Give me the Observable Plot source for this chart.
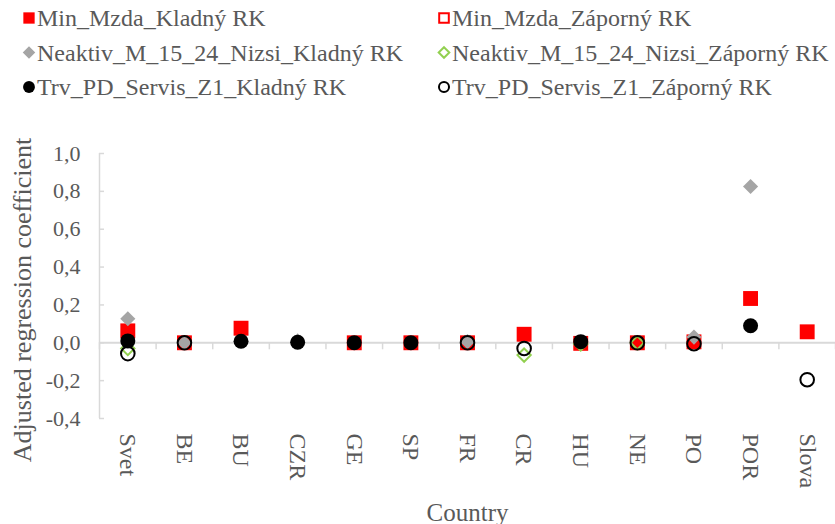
<!DOCTYPE html>
<html><head><meta charset="utf-8">
<script src="https://cdn.jsdelivr.net/npm/d3@7"></script>
<script src="https://cdn.jsdelivr.net/npm/@observablehq/plot@0.6"></script>
<style>
html,body{margin:0;background:#fff;}
#legend svg, #chart svg{display:block;}
</style></head><body>
<div id="legend"></div>
<div id="chart"></div>
<script>
// ---- data ----
const countries = ["Svet","BE","BU","CZR","GE","SP","FR","CR","HU","NE","PO","POR","Slova"];
const minMzdaKladny   = [0.063, 0, 0.077, null, 0, 0, 0, 0.045, -0.003, 0, 0.005, 0.234, 0.058];
const minMzdaZaporny  = [null, null, null, null, null, null, null, null, null, null, null, null, null];
const neaktivKladny   = [0.127, 0, null, 0.01, null, null, 0.006, null, null, null, 0.03, 0.826, null];
const neaktivZaporny  = [-0.03, null, null, null, null, null, null, -0.065, -0.006, 0, null, null, null];
const trvKladny       = [0.01, null, 0.008, 0.003, 0, 0, null, null, 0.006, null, null, 0.09, null];
const trvZaporny      = [-0.057, 0, null, null, null, null, 0, -0.03, null, 0, -0.005, null, -0.195];
const seriesNames = ["Min_Mzda_Kladný RK","Min_Mzda_Záporný RK","Neaktiv_M_15_24_Nizsi_Kladný RK","Neaktiv_M_15_24_Nizsi_Záporný RK","Trv_PD_Servis_Z1_Kladný RK","Trv_PD_Servis_Z1_Záporný RK"];
const yTicks = [-0.4, -0.2, 0, 0.2, 0.4, 0.6, 0.8, 1.0];
const xTitle = "Country";
const yTitle = "Adjusted regression coefficient";

// ---- styles ----
const FONT = "Liberation Serif";
const series = [
  {values: minMzdaKladny,  symbol: "square",   fill: "#ff0000", stroke: "none",    sw: 0, r: 8.4},
  {values: minMzdaZaporny, symbol: "square",   fill: "none",    stroke: "#ff0000", sw: 2, r: 7.4},
  {values: neaktivKladny,  symbol: "diamond2", fill: "#a5a5a5", stroke: "none",    sw: 0, r: 6.8},
  {values: neaktivZaporny, symbol: "diamond2", fill: "none",    stroke: "#92d050", sw: 2, r: 6.0},
  {values: trvKladny,      symbol: "circle",   fill: "#000000", stroke: "none",    sw: 0, r: 7.5},
  {values: trvZaporny,     symbol: "circle",   fill: "none",    stroke: "#000000", sw: 2, r: 6.8}
].map((s, k) => ({...s, name: seriesNames[k]}));

// ---- legend (svg) ----
const symMap = {square: d3.symbolSquare, diamond2: d3.symbolDiamond2, circle: d3.symbolCircle};
const lsvg = d3.select("#legend").append("svg").attr("width", 835).attr("height", 110);
series.forEach((s, k) => {
  const col = k % 2, row = Math.floor(k / 2);
  const cx = col ? 444 : 29, cy = 18 + row * 34.5;
  const size = s.symbol === "square" ? 128 : s.symbol === "diamond2" ? 100 : 110;
  lsvg.append("path")
    .attr("transform", `translate(${cx},${cy})`)
    .attr("d", d3.symbol(symMap[s.symbol], s.fill === "none" ? size * 0.72 : size)())
    .attr("fill", s.fill).attr("stroke", s.stroke).attr("stroke-width", s.sw || null);
  lsvg.append("text")
    .attr("x", cx + 8).attr("y", cy).attr("dy", "0.34em")
    .attr("font-family", FONT).attr("font-size", 24).attr("fill", "#595959")
    .text(s.name);
});

// ---- chart ----
const fmt = d => d3.format(".1f")(d).replace(".", ",").replace("\u2212", "-");
const idx = d3.range(countries.length);
const bounds = d3.range(countries.length + 1).map(i => i - 0.5);

const dotMarks = series.map(s => {
  const rows = s.values.map((v, i) => ({i, v})).filter(d => d.v != null);
  return Plot.dot(rows, {
    x: "i", y: "v", symbol: () => s.symbol, r: s.r,
    fill: s.fill, stroke: s.stroke, strokeWidth: s.sw
  });
});

const chart = Plot.plot({
  width: 835, height: 414,
  marginTop: 43, marginBottom: 106, marginLeft: 99, marginRight: 0,
  style: {fontFamily: FONT, color: "#595959", background: "#ffffff", overflow: "visible"},
  x: {type: "linear", domain: [-0.5, countries.length - 0.5]},
  y: {domain: [-0.4, 1.0]},
  symbol: {type: "identity"},
  marks: [
    Plot.ruleX([bounds[0]], {stroke: "#d9d9d9", strokeWidth: 1.5}),
    Plot.ruleY(yTicks, {y: d => d, x1: bounds[0], x2: bounds[0], insetRight: -5, stroke: "#d9d9d9", strokeWidth: 1.5}),
    Plot.ruleY([0], {stroke: "#d9d9d9", strokeWidth: 2}),
    Plot.ruleX(bounds, {x: d => d, y1: 0, y2: 0, insetBottom: -7, stroke: "#d9d9d9", strokeWidth: 1.5}),
    Plot.axisY({ticks: yTicks, tickSize: 0, tickPadding: 19, tickFormat: fmt, fontSize: 22, label: null}),
    Plot.axisX({ticks: idx, tickFormat: i => countries[i], tickSize: 0, tickPadding: 15, tickRotate: 90, fontSize: 24, label: null}),
    ...dotMarks,
    Plot.text([yTitle], {frameAnchor: "left", rotate: -90, dx: -77, dy: 14, textAnchor: "middle", lineAnchor: "middle", fontSize: 26, fill: "#595959"}),
    Plot.text([xTitle], {frameAnchor: "bottom", dy: 94, textAnchor: "middle", lineAnchor: "middle", fontSize: 25, fill: "#595959"})
  ]
});
document.getElementById("chart").appendChild(chart);
</script>
</body></html>
